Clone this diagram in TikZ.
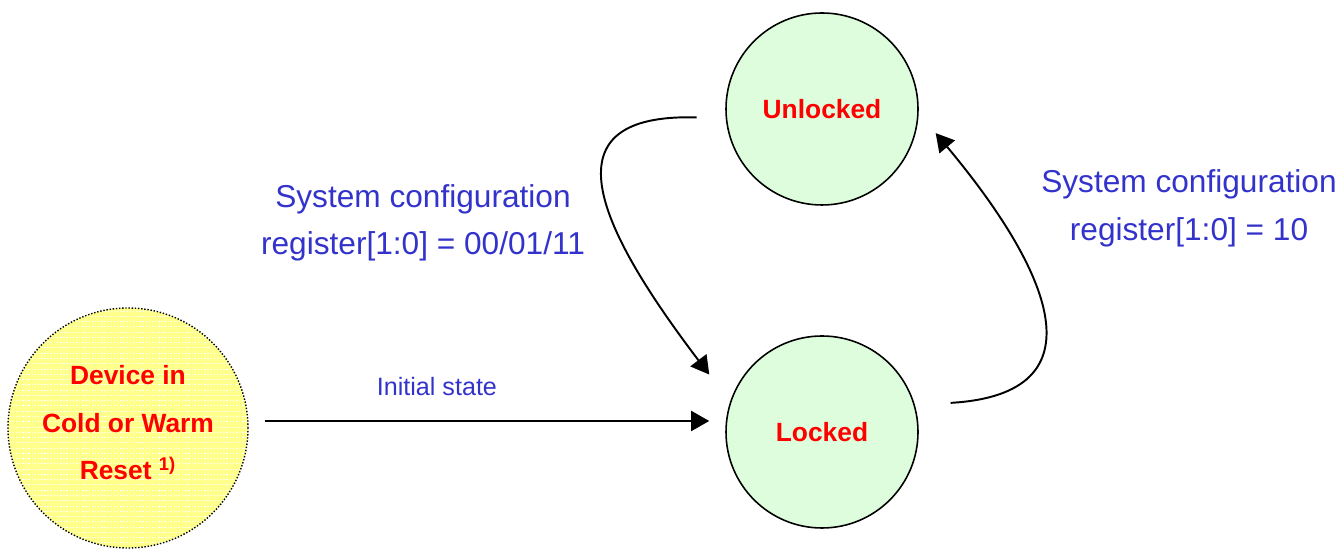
\documentclass[tikz,border=0pt]{standalone}
\usepackage{fontspec}
\setmainfont{Liberation Sans}
\usetikzlibrary{arrows.meta,patterns}
\definecolor{lblblue}{HTML}{3333CC}
\definecolor{stgreen}{HTML}{DDFDDD}
\definecolor{rstyellow}{HTML}{FFFF8C}
\begin{document}
\begin{tikzpicture}[
  >={Triangle[length=3.6mm, width=4mm]},
  state/.style={circle, draw, line width=0.9pt, fill=stgreen, minimum size=3.84cm,
    inner sep=0pt, font=\fontsize{15}{18}\selectfont\bfseries, text=red},
  rststate/.style={circle, draw, densely dotted, line width=0.8pt,
    preaction={fill=rstyellow}, pattern=horizontal lines, pattern color=white,
    minimum size=4.8cm, inner sep=0pt},
  rsttext/.style={align=center, yshift=0.1cm,
    font=\fontsize{15}{27}\selectfont\bfseries, text=red},
  cond/.style={align=center, text=lblblue, font=\fontsize{18}{27}\selectfont},
  edge/.style={->, line width=1.1pt}
]
\useasboundingbox (0,0) rectangle (26.76,10.98);
% the three states
\node[rststate, label={[rsttext]center:Device in\\ Cold or Warm\\ Reset \textsuperscript{1)}}]
  (reset) at (2.56,2.42) {};
\node[state] (locked) at (16.44,2.34) {Locked};
\node[state] (unlocked) at (16.44,8.80) {Unlocked};
% transition out of reset
\draw[edge, shorten <=0.32cm, shorten >=0.32cm]
  ([yshift=0.14cm]reset.east) -- ([yshift=0.22cm]locked.west)
  node[pos=0.395, above=0.36cm, text=lblblue, font=\fontsize{14.3}{17}\selectfont]
  (initlab) {Initial state};
% locking and unlocking
\draw[edge] ([xshift=-0.58cm]unlocked.185)
  .. controls (10.9,8.72) and (11.9,6.5) .. ([shift={(-0.53,0.27)}]locked.153);
\draw[edge] ([shift={(0.68,0.18)}]locked.12)
  .. controls (22.1,3.1) and (21.0,5.58) .. ([shift={(0.38,-0.08)}]unlocked.-12);
% the register values
\node[cond] (lockcond) at (8.46,6.52)
  {System configuration\\ register[1:0] = 00/01/11};
\node[cond] (unlockcond) at (23.78,6.81)
  {System configuration\\ register[1:0] = 10};
\end{tikzpicture}
\end{document}
